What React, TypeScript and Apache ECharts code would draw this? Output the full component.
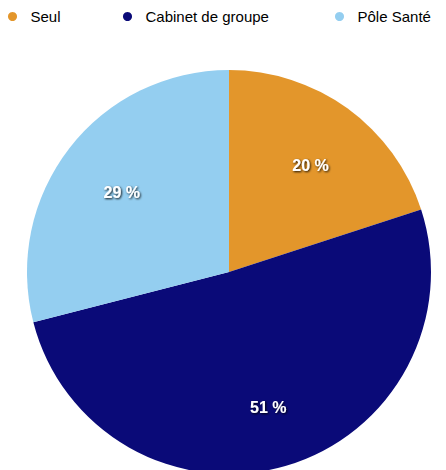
import React, { useEffect, useRef } from "react";
import * as echarts from "echarts";

const categories = ["Seul", "Cabinet de groupe", "Pôle Santé"];
const values = [20, 51, 29];
const colors = ["#E3962B", "#0A0A78", "#94CEF0"];
const legendLefts = [8, 123, 335];

export default function App() {
  const ref = useRef<HTMLDivElement>(null);
  useEffect(() => {
    const chart = echarts.init(ref.current!, null, { renderer: "svg" });
    const data = categories.map((name, i) => ({
      name,
      value: values[i],
      itemStyle: { color: colors[i] },
    }));
    chart.setOption({
      animation: false,
      legend: categories.map((name, i) => ({
        data: [name],
        left: legendLefts[i],
        top: 9,
        icon: "circle",
        itemWidth: 26,
        itemHeight: 9,
        padding: 0,
        selectedMode: false,
        textStyle: { fontFamily: "Liberation Sans, Arial, sans-serif", fontSize: 15, color: "#000" },
      })),
      series: [
        {
          type: "pie",
          center: [229, 272],
          radius: [0, 202],
          startAngle: 90,
          clockwise: true,
          data,
          label: { show: false },
          labelLine: { show: false },
          emphasis: { disabled: true },
        },
        {
          type: "pie",
          center: [229, 272],
          radius: [66, 202],
          startAngle: 90,
          clockwise: true,
          silent: true,
          data: categories.map((name, i) => ({
            name,
            value: values[i],
            itemStyle: { color: "transparent" },
          })),
          label: {
            show: true,
            position: "inside",
            offset: [1, 4],
            formatter: (p: any) => `${p.value} %`,
            color: "#fff",
            fontWeight: "bold",
            fontSize: 16,
            fontFamily: "Liberation Sans, Arial, sans-serif",
            textShadowColor: "rgba(0,0,0,0.9)",
            textShadowBlur: 2,
            textShadowOffsetX: 1,
            textShadowOffsetY: 1,
          },
          labelLine: { show: false },
          emphasis: { disabled: true },
        },
      ],
    });
    return () => chart.dispose();
  }, []);
  return (
    <div
      ref={ref}
      style={{ position: "fixed", left: 0, top: 0, width: 446, height: 470, background: "#fff" }}
    />
  );
}
